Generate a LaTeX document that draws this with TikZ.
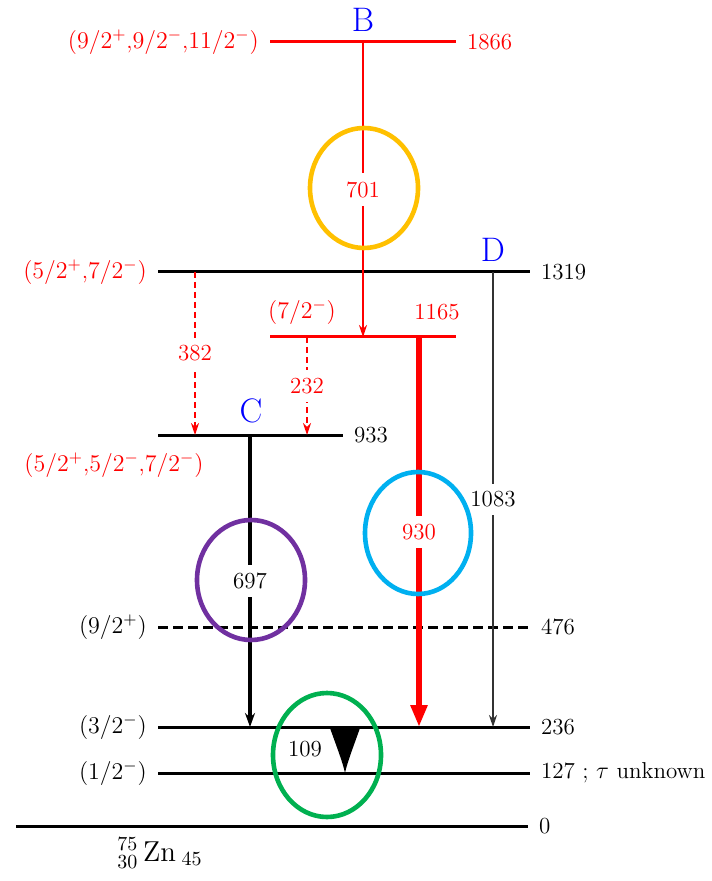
\documentclass[tikz,border=0pt]{standalone}
\usepackage{amsmath,amssymb}
\usepackage{xcolor}
\usetikzlibrary{arrows.meta,calc,positioning}
\definecolor{ringorange}{HTML}{FFC000}
\definecolor{ringcyan}{HTML}{00B0F0}
\definecolor{ringpurple}{HTML}{7030A0}
\definecolor{ringgreen}{HTML}{00B050}
\tikzset{
  lvl/.style={line width=1.5pt},
  spin/.style={left=1.5pt,red},
  ener/.style={right=1.5pt},
  tag/.style={text=blue,font=\fontsize{17}{19}\selectfont},
  lab/.style={fill=white,inner xsep=1pt,inner ysep=4pt},
  ring/.style={line width=2.3pt},
}

\begin{document}
\begin{tikzpicture}[x=0.5pt,y=-0.5pt,font=\fontsize{11.5}{14}\selectfont,>={Stealth[length=6pt,width=4pt]}]
\useasboundingbox (0,0) rectangle (711,881);
% levels
\coordinate (l1866w) at (270,42);  \coordinate (l1866e) at (456,42);
\coordinate (l1319w) at (158,272); \coordinate (l1319e) at (530,272);
\coordinate (l1165w) at (270,337); \coordinate (l1165e) at (456,337);
\coordinate (l933w)  at (158,435); \coordinate (l933e)  at (343,435);
\coordinate (l476w)  at (158,627); \coordinate (l476e)  at (530,627);
\coordinate (l236w)  at (158,727); \coordinate (l236e)  at (530,727);
\coordinate (l127w)  at (158,773); \coordinate (l127e)  at (530,773);
\coordinate (l0w)    at (16,826);  \coordinate (l0e)    at (528,826);

\draw[lvl,red] (l1866w) node[spin]{$(9/2^{+}$,$9/2^{-}$,$11/2^{-})$} -- (l1866e) node[ener,red]{1866};
\draw[lvl] (l1319w) node[spin]{$(5/2^{+}$,$7/2^{-})$} -- (l1319e) node[ener]{1319};
\draw[lvl,red] (l1165w) -- (l1165e);
\node[red] (s1165) at (302,312) {$(7/2^{-})$};
\node[red] (e1165) at (437,312) {1165};
\draw[lvl] (l933w) -- (l933e) node[ener]{933};
\node[red] (s933) at (114,465) {$(5/2^{+}$,$5/2^{-}$,$7/2^{-})$};
\draw[lvl,dashed,dash pattern=on 5pt off 2.5pt] (l476w) node[spin,black]{$(9/2^{+})$} -- (l476e) node[ener]{476};
\draw[lvl] (l236w) node[spin,black]{$(3/2^{-})$} -- (l236e) node[ener]{236};
\draw[lvl] (l127w) node[spin,black]{$(1/2^{-})$} -- (l127e) node[ener]{127 ; $\tau$ unknown};
\draw[lvl] (l0w) -- (l0e) node[ener]{0};
\node[font=\fontsize{14}{16}\selectfont] (nucl) at (160,853) {${}^{75}_{30}\,\mathrm{Zn}_{\;45}$};

% tags
\node[tag] (tagB) at (363,20) {B};
\node[tag] (tagC) at (251,411) {C};
\node[tag] (tagD) at (493,250) {D};

% transitions
\coordinate (t701a) at (363,42);  \coordinate (t701b) at (363,337);
\coordinate (t382a) at (195,272); \coordinate (t382b) at (195,435);
\coordinate (t232a) at (307,337); \coordinate (t232b) at (307,435);
\coordinate (t1083a) at (493,272); \coordinate (t1083b) at (493,727);
\coordinate (t697a) at (250,435); \coordinate (t697b) at (250,727);
\coordinate (t930a) at (419,337); \coordinate (t930b) at (419,727);

\draw[->,red,line width=1.3pt] (t701a) -- (t701b) node[lab,midway,text=red] (g701) {701};
\draw[->,red,line width=0.6pt,dashed,dash pattern=on 3pt off 2pt] (t382a) -- (t382b) node[lab,midway,text=red] (g382) {382};
\draw[->,red,line width=0.6pt,dashed,dash pattern=on 3pt off 2pt] (t232a) -- (t232b) node[lab,midway,text=red] (g232) {232};
\draw[->,black!80,line width=0.7pt] (t1083a) -- (t1083b) node[lab,midway,text=black] (g1083) {1083};
\draw[-{Stealth[length=7pt,width=5pt]},line width=2pt] (t697a) -- (t697b) node[lab,midway] (g697) {697};
\draw[-{Triangle[length=11pt,width=8pt]},red,line width=3pt] (t930a) -- (t930b) node[lab,midway,text=red] (g930) {930};

% 109
\coordinate (t109a) at (345,727); \coordinate (t109b) at (345,773);
\fill ($(t109a)+(-15,1)$) -- ($(t109a)+(15,1)$) .. controls ($(t109a)+(9,18)$) and ($(t109b)+(2,-10)$) .. (t109b)
  .. controls ($(t109b)+(-2,-10)$) and ($(t109a)+(-9,18)$) .. cycle;
\node (g109) at (305,749) {109};

% rings
\draw[ring,ringorange] (364,188) ellipse [x radius=27pt,y radius=30pt];
\draw[ring,ringpurple] (251,580) ellipse [x radius=27pt,y radius=30pt];
\draw[ring,ringcyan] (418,533) ellipse [x radius=26.5pt,y radius=30.5pt];
\draw[ring,ringgreen] (327,755) ellipse [x radius=27pt,y radius=31pt];
\end{tikzpicture}
\end{document}
